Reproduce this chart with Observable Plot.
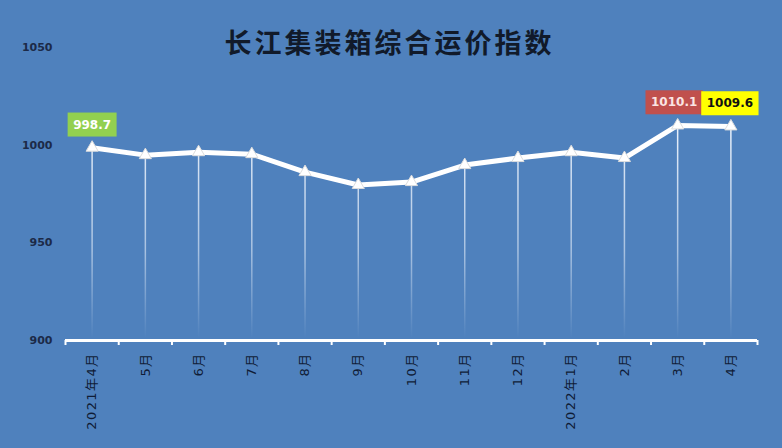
<!DOCTYPE html>
<html>
<head>
<meta charset="utf-8">
<script src="https://cdn.jsdelivr.net/npm/d3@7"></script>
<script src="https://cdn.jsdelivr.net/npm/@observablehq/plot@0.6"></script>
<style>
  html, body { margin: 0; padding: 0; background: #ffffff; }
  #chart svg { display: block; }
</style>
</head>
<body>
<div id="chart"></div>
<script>
// ---- data ----
const title = "长江集装箱综合运价指数";
const categories = ["2021年4月", "5月", "6月", "7月", "8月", "9月", "10月", "11月", "12月", "2022年1月", "2月", "3月", "4月"];
const values = [998.7, 994.9, 996.4, 995.4, 986.2, 979.6, 981.1, 989.8, 993.4, 996.4, 993.4, 1010.1, 1009.6];
const yTicks = [900, 950, 1000, 1050];
const labeledIndex = [0, 11, 12];

// ---- derived tables ----
const data = categories.map((c, i) => ({ i, c, v: values[i] }));
const labeled = labeledIndex.map(i => data[i]);
const bounds = d3.range(categories.length + 1).map(k => k - 0.5);

// ---- styles ----
const BG = "#4f81bd";
const FONT = "'DejaVu Sans', 'Noto Sans CJK SC', sans-serif";
const boxFills = ["#92d050", "#c0504d", "#ffff00"];
const boxText = ["#ffffff", "#fbe5e3", "#111111"];
const boxShift = [0, -3.5, -1];

const chart = Plot.plot({
  width: 782,
  height: 448,
  marginLeft: 65,
  marginRight: 25,
  marginTop: 47,
  marginBottom: 108,
  style: { background: BG, fontFamily: FONT, color: "#1c2a48", overflow: "visible" },
  x: {
    type: "linear",
    domain: [-0.5, categories.length - 0.5],
    ticks: bounds,
    tickFormat: () => "",
    tickSize: 5,
    label: null
  },
  y: {
    domain: [900, 1050],
    ticks: yTicks,
    tickFormat: d => String(d),
    tickSize: 0,
    tickPadding: 13,
    label: null
  },
  marks: [
    Plot.ruleX(data, { x: "i", y1: 900, y2: "v", stroke: "url(#fade)", strokeWidth: 1.5 }),
    Plot.ruleY([900], { stroke: "#ffffff", strokeWidth: 3 }),
    Plot.line(data, { x: "i", y: "v", stroke: "#ffffff", strokeWidth: 5, strokeLinejoin: "round" }),
    Plot.dot(data, { x: "i", y: "v", symbol: "triangle", r: 4.5, fill: "#ffffff", stroke: "#dddddd", strokeWidth: 1 }),
    Plot.text(data, {
      x: "i", y: () => 900, text: "c", rotate: -90, textAnchor: "end",
      dy: 12, fontSize: 13, fill: "#0f1c36", className: "xlab"
    }),
    Plot.text(labeled, {
      x: "i", y: "v", text: d => d.v.toFixed(1), dy: -23,
      fontSize: 12, fontWeight: "bold", className: "lbl"
    }),
    Plot.text([title], {
      frameAnchor: "top", dx: -22, dy: -14, text: d => d,
      fontSize: 27, fontWeight: "bold", fill: "#111a2a", className: "ttl",
      fontFamily: "'Noto Sans CJK SC', sans-serif"
    })
  ]
});

document.getElementById("chart").append(chart);

const svg = d3.select(chart);
// gradient for drop lines
const defs = svg.insert("defs", ":first-child");
const grad = defs.append("linearGradient")
  .attr("id", "fade").attr("gradientUnits", "userSpaceOnUse")
  .attr("x1", 0).attr("x2", 0).attr("y1", 120).attr("y2", 338);
grad.append("stop").attr("offset", "0%").attr("stop-color", "#eef4fc").attr("stop-opacity", 1);
grad.append("stop").attr("offset", "60%").attr("stop-color", "#e4edf9").attr("stop-opacity", 0.6);
grad.append("stop").attr("offset", "100%").attr("stop-color", "#e4edf9").attr("stop-opacity", 0);

// axis styling
svg.selectAll("[aria-label^='x-axis']").style("color", "#ffffff");
svg.selectAll("[aria-label^='x-axis'] line, [aria-label^='x-axis'] path")
  .attr("stroke", "#ffffff").attr("stroke-width", 2);
svg.selectAll("[aria-label^='y-axis']").style("color", "#1c2a48");
svg.selectAll("[aria-label^='y-axis'] text")
  .attr("font-size", 11).attr("font-weight", "bold").style("font-size", "11px").style("font-weight", "bold");
svg.selectAll(".xlab text").style("letter-spacing", "1.4px");
svg.selectAll(".ttl text").style("letter-spacing", "3px");

// label boxes
svg.selectAll(".lbl text").each(function (d, k) {
  const bb = this.getBBox();
  const padX = 5.5, h = 24;
  const g = document.createElementNS("http://www.w3.org/2000/svg", "g");
  g.setAttribute("transform", `translate(${boxShift[k]},0)`);
  const r = document.createElementNS("http://www.w3.org/2000/svg", "rect");
  r.setAttribute("x", bb.x - padX);
  r.setAttribute("y", bb.y + bb.height / 2 - h / 2);
  r.setAttribute("width", bb.width + 2 * padX);
  r.setAttribute("height", h);
  r.setAttribute("fill", boxFills[k]);
  const t = this.getAttribute("transform");
  if (t) r.setAttribute("transform", t);
  this.parentNode.insertBefore(g, this);
  g.appendChild(r);
  g.appendChild(this);
  this.setAttribute("fill", boxText[k]);
});
</script>
</body>
</html>
